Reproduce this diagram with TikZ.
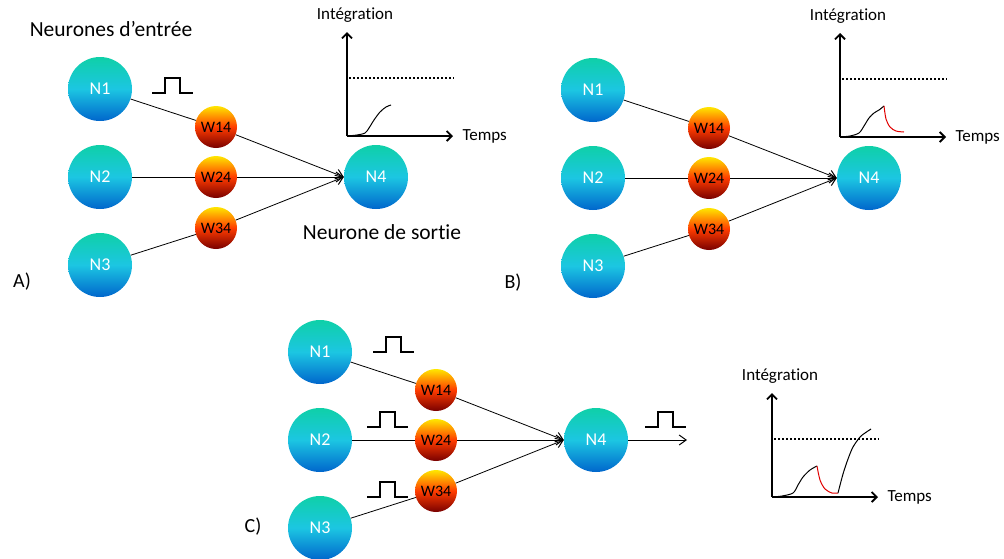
\documentclass[tikz,border=0pt]{standalone}
\usepackage{fontspec}
\setmainfont{Carlito}[Ligatures={CommonOff,ContextualOff,RequiredOff}]
\usetikzlibrary{arrows.meta}
\definecolor{ntop}{HTML}{0FD0A8}
\definecolor{nmid}{HTML}{1CC6E2}
\definecolor{nbot}{HTML}{0066CC}
\definecolor{wtop}{HTML}{FFE600}
\definecolor{wmid}{HTML}{FF3C00}
\definecolor{wbot}{HTML}{780000}
\definecolor{redc}{HTML}{E00000}
\tikzset{
  neuron/.style={circle,minimum size=64pt,inner sep=0pt,top color=ntop,bottom color=nbot,middle color=nmid,text=white,font=\fontsize{18}{18}\selectfont},
  weightnode/.style={circle,minimum size=42pt,inner sep=0pt,top color=wtop,bottom color=wbot,middle color=wmid,text=black,font=\fontsize{16}{16}\selectfont},
  conn/.style={draw=black,line width=0.8pt},
  connarrow/.style={conn,-{Straight Barb[length=7pt,width=10pt,line width=1pt]}},
  axisline/.style={line width=1.8pt,-{Straight Barb[length=5pt,width=10pt]}},
  pulseline/.style={line width=1.5pt},
  threshold/.style={line width=1.6pt,dash pattern=on 2pt off 2pt},
  curveblack/.style={line width=1pt,black},
  curvered/.style={line width=1pt,redc},
  biglabel/.style={font=\fontsize{21.5}{21.5}\selectfont},
  graphlabel/.style={font=\fontsize{17}{17}\selectfont},
  panellabel/.style={font=\fontsize{20}{20}\selectfont}
}
\newcommand\mypulse[2]{% start x, baseline y (absolute)
  \draw[pulseline] (#1,#2) -- ++(13,0) -- ++(0,-15) -- ++(15,0) -- ++(0,15) -- ++(13,0);}
\newcommand\mynet[1]{%
  \node[neuron] (#1n1) at (100,89) {N1};
  \node[neuron] (#1n2) at (100,177) {N2};
  \node[neuron] (#1n3) at (100,265) {N3};
  \node[weightnode] (#1w1) at (216,127) {W14};
  \node[weightnode] (#1w2) at (216,177) {W24};
  \node[weightnode] (#1w3) at (216,228) {W34};
  \node[neuron] (#1n4) at (376,177) {N4};
  \draw[conn] (#1n1) -- (#1w1);
  \draw[conn] (#1n2) -- (#1w2);
  \draw[conn] (#1n3) -- (#1w3);
  \draw[connarrow] (#1w1) -- (#1n4.west);
  \draw[connarrow] (#1w2) -- (#1n4.west);
  \draw[connarrow] (#1w3) -- (#1n4.west);
}
\newcommand\myaxes[1]{%
  \coordinate (#1o) at (0,0);
  \coordinate (#1yt) at (0,-104);
  \coordinate (#1xe) at (106,0);
  \coordinate (#1da) at (2,-58);
  \coordinate (#1db) at (107,-58);
  \draw[axisline] (#1o) -- (#1yt);
  \draw[axisline] (#1o) -- (#1xe);
  \draw[threshold] (#1da) -- (#1db);
  \node[graphlabel] (#1int) at (8,-121) {Intégrat\kern0pt ion};
  \node[graphlabel,anchor=west] (#1tps) at (112,0) {Temps};
}
\begin{document}
\begin{tikzpicture}[x=1pt,y=-1pt]
\useasboundingbox (0,0) rectangle (1004,558);
% ---------- Panel A ----------
\mynet{a}
\mypulse{152}{93}
\node[biglabel] (atitle) at (111,29) {Neurones d’entrée};
\node[biglabel] (aout) at (382,232) {Neurone de sortie};
\node[panellabel] (alab) at (22,282) {A)};
\begin{scope}[shift={(347,136)}]
  \myaxes{ag}
  \draw[curveblack] plot[smooth] coordinates {(0,0) (10,-1) (18,-3) (22,-8) (27,-16) (33,-24) (39,-29) (44,-31)};
\end{scope}
% ---------- Panel B ----------
\begin{scope}[shift={(493,1)}]
  \mynet{b}
  \node[panellabel] (blab) at (20,282) {B)};
  \begin{scope}[shift={(347,136)}]
    \myaxes{bg}
    \draw[curveblack] plot[smooth] coordinates {(0,0) (10,-1) (19,-4) (24,-11) (29,-19) (34,-24) (39,-27) (44,-31)};
    \draw[curvered] plot[smooth] coordinates {(44,-31) (46,-18) (50,-10) (56,-6) (64,-5)};
  \end{scope}
\end{scope}
% ---------- Panel C ----------
\begin{scope}[shift={(220,263)}]
  \mynet{c}
  \coordinate (cend) at (467,177);
  \draw[connarrow] (cn4) -- (cend);
  \node[panellabel] (clab) at (33,264) {C)};
\end{scope}
\mypulse{373}{352}
\mypulse{367}{427}
\mypulse{367}{497}
\mypulse{645}{427}
\begin{scope}[shift={(772,497)}]
  \myaxes{cg}
  \draw[curveblack] plot[smooth] coordinates {(0,0) (10,-1) (21,-4) (26,-12) (31,-20) (38,-27) (45,-31)};
  \draw[curvered] plot[smooth] coordinates {(45,-31) (48,-17) (53,-8) (60,-4) (66,-4)};
  \draw[curveblack] plot[smooth] coordinates {(66,-4) (71,-23) (76,-38) (81,-50) (88,-60) (93,-64) (99,-68)};
\end{scope}
\end{tikzpicture}
\end{document}
